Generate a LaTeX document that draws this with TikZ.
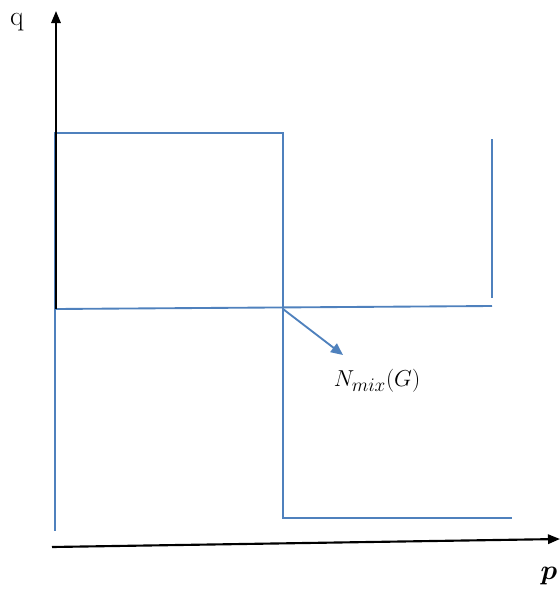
\documentclass[tikz,border=0pt]{standalone}
\usepackage{amsmath,bm}
\usetikzlibrary{arrows.meta}
\definecolor{lineblue}{RGB}{79,129,189}
\begin{document}
\begin{tikzpicture}[x=0.75pt,y=-0.75pt,
  axis/.style={black,line width=1.6pt},
  bline/.style={lineblue,line width=1.4pt},
  lbl/.style={inner sep=0pt,anchor=center}]
\useasboundingbox (0,0) rectangle (560,590);
% coordinates
\coordinate (yb) at (56,309);
\coordinate (yt) at (56,11);
\coordinate (xl) at (52,547);
\coordinate (xr) at (560,539);
\coordinate (tl) at (55,133);
\coordinate (tm) at (283,133);
\coordinate (ml) at (55,309);
\coordinate (mm) at (283,309);
\coordinate (mr) at (492,306);
\coordinate (bl) at (55,531);
\coordinate (bm) at (283,518);
\coordinate (br) at (512,518);
\coordinate (rt) at (492,139);
\coordinate (rb) at (492,298);
\coordinate (ae) at (343,355);
% blue lines
\draw[bline] (ml) -- (tl) -- (tm) -- (bm) -- (br);
\draw[bline] (ml) -- (bl);
\draw[bline] (ml) -- (mr);
\draw[bline] (rt) -- (rb);
\draw[bline,-{Triangle[length=9pt,width=8pt]}] (mm) -- (ae);
\node[lbl] (nmix) at (377,381) {\fontsize{19}{23}\selectfont $N_{mix}(G)$};
% axes
\draw[axis,-{Triangle[length=9pt,width=7pt]}] (yb) -- (yt);
\draw[axis,-{Triangle[length=9pt,width=7pt]}] (xl) -- (xr);
\node[lbl] (q) at (17,22) {\fontsize{21}{24}\selectfont q};
\node[lbl] (p) at (549,576) {\fontsize{22}{25}\selectfont $\bm{p}$};
\end{tikzpicture}
\end{document}
